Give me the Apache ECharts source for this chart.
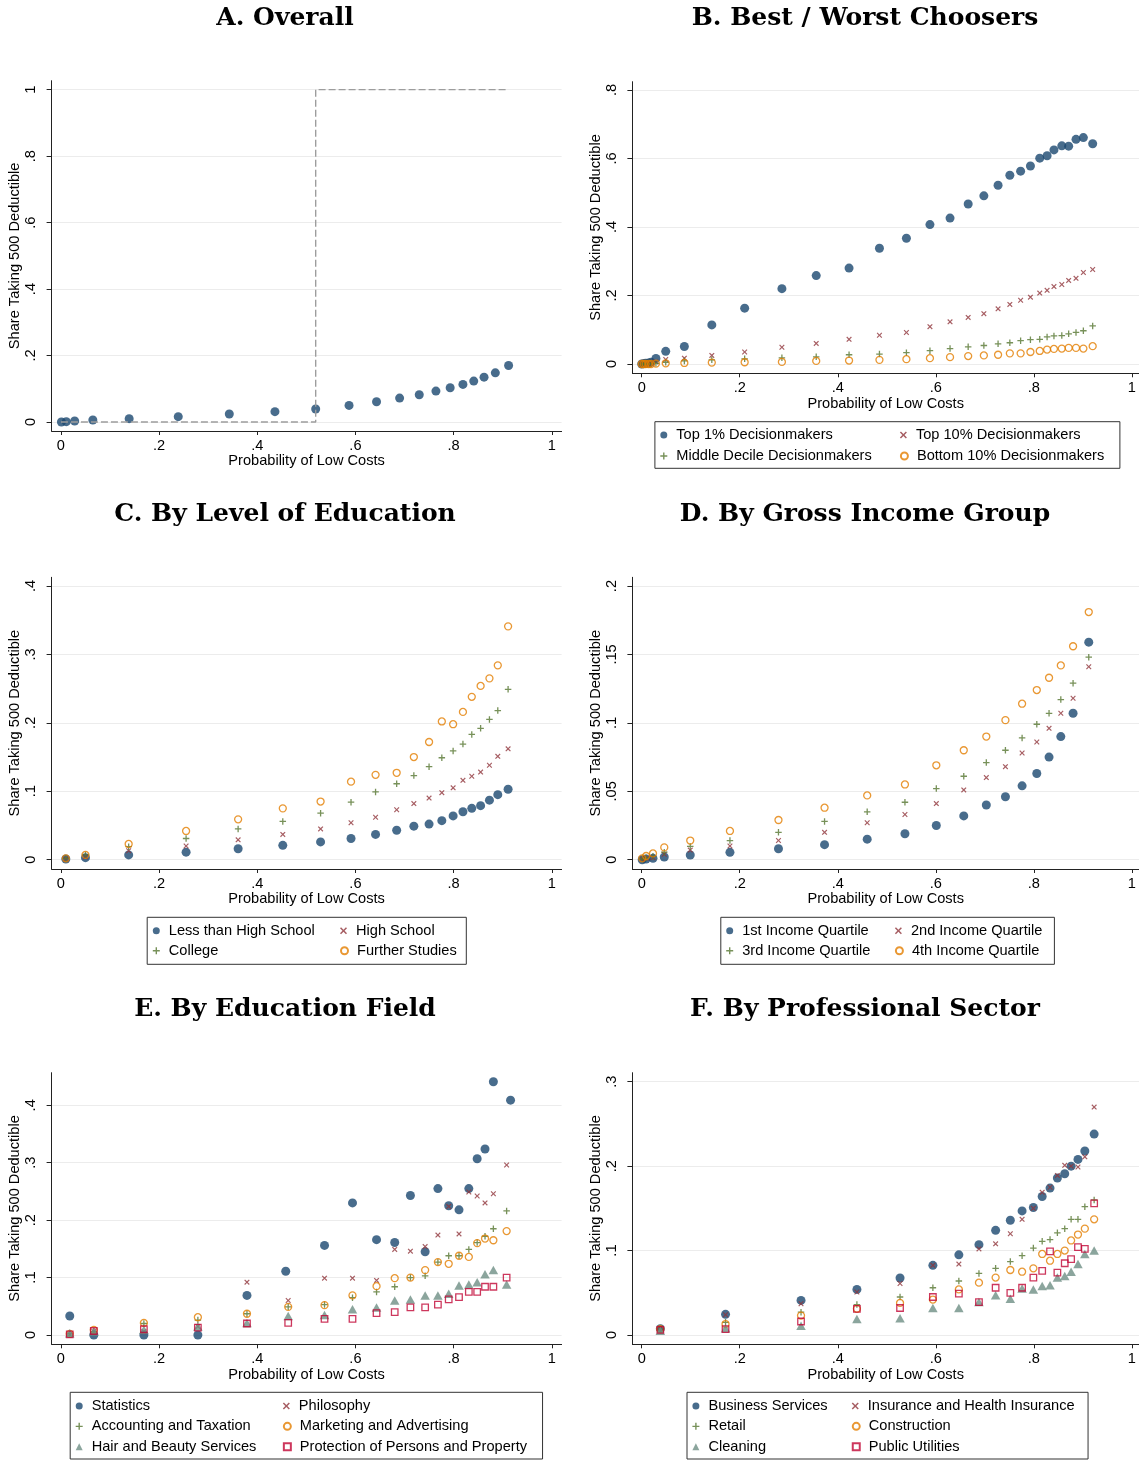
<!DOCTYPE html>
<html>
<head>
<meta charset="utf-8">
<script src="https://cdn.jsdelivr.net/npm/echarts@6/dist/echarts.min.js"></script>
<style>
  html, body { margin: 0; padding: 0; background: #fff; }
  #chart { width: 1139px; height: 1460px; }
</style>
</head>
<body>
<div id="chart"></div>
<script>
  // ---- data ----
  const xTicks = [0, 0.2, 0.4, 0.6, 0.8, 1]
  const xTickLabels = ['0', '.2', '.4', '.6', '.8', '1']

  // A. Overall
  const xA = [0.001, 0.011, 0.028, 0.065, 0.139, 0.239, 0.343, 0.436, 0.519, 0.587, 0.643, 0.690, 0.730, 0.764, 0.793, 0.819, 0.841, 0.862, 0.885, 0.912]
  const yA = [0, 0.001, 0.003, 0.006, 0.010, 0.016, 0.024, 0.031, 0.039, 0.050, 0.061, 0.072, 0.082, 0.093, 0.103, 0.113, 0.123, 0.135, 0.148, 0.170]
  const xStep = [0, 0.519, 0.519, 0.912]
  const yStep = [0, 0, 1, 1]
  const yTicksA = [0, 0.2, 0.4, 0.6, 0.8, 1]
  const yLabelsA = ['0', '.2', '.4', '.6', '.8', '1']

  // B. Best / Worst Choosers
  const xB = [0, 0.004, 0.008, 0.014, 0.019, 0.029, 0.049, 0.087, 0.143, 0.210, 0.286, 0.356, 0.423, 0.485, 0.540, 0.588, 0.629, 0.666, 0.698, 0.727, 0.751, 0.773, 0.793, 0.812, 0.827, 0.841, 0.857, 0.871, 0.886, 0.901, 0.920]
  const top1 = [0, 0.001, 0.002, 0.003, 0.005, 0.016, 0.037, 0.051, 0.114, 0.163, 0.220, 0.258, 0.280, 0.338, 0.367, 0.407, 0.426, 0.467, 0.491, 0.522, 0.551, 0.563, 0.578, 0.601, 0.608, 0.625, 0.637, 0.636, 0.656, 0.661, 0.643]
  const top10 = [0, 0, 0.001, 0.001, 0.002, 0.006, 0.013, 0.017, 0.025, 0.035, 0.049, 0.060, 0.072, 0.084, 0.092, 0.109, 0.123, 0.136, 0.147, 0.161, 0.174, 0.186, 0.195, 0.207, 0.215, 0.226, 0.232, 0.244, 0.250, 0.267, 0.276]
  const midDec = [0, 0, 0, 0, 0.001, 0.002, 0.005, 0.009, 0.012, 0.015, 0.018, 0.021, 0.027, 0.029, 0.033, 0.039, 0.045, 0.050, 0.054, 0.059, 0.062, 0.068, 0.071, 0.072, 0.079, 0.082, 0.083, 0.088, 0.092, 0.097, 0.111]
  const bot10 = [0, 0, 0, 0, 0, 0.001, 0.002, 0.003, 0.004, 0.005, 0.006, 0.009, 0.010, 0.012, 0.014, 0.017, 0.020, 0.023, 0.025, 0.027, 0.031, 0.031, 0.035, 0.038, 0.042, 0.044, 0.045, 0.047, 0.047, 0.045, 0.052]
  const yTicksB = [0, 0.2, 0.4, 0.6, 0.8]
  const yLabelsB = ['0', '.2', '.4', '.6', '.8']

  // C. By Level of Education
  const xC = [0.010, 0.050, 0.138, 0.255, 0.361, 0.452, 0.529, 0.591, 0.641, 0.684, 0.719, 0.750, 0.776, 0.799, 0.819, 0.837, 0.855, 0.873, 0.890, 0.911]
  const lessHS = [0.001, 0.003, 0.007, 0.011, 0.016, 0.021, 0.026, 0.031, 0.037, 0.043, 0.049, 0.052, 0.057, 0.064, 0.070, 0.075, 0.079, 0.087, 0.095, 0.103]
  const highSchool = [0.001, 0.004, 0.013, 0.020, 0.029, 0.037, 0.045, 0.054, 0.062, 0.073, 0.082, 0.090, 0.098, 0.105, 0.116, 0.122, 0.128, 0.138, 0.151, 0.162]
  const college = [0.002, 0.007, 0.019, 0.031, 0.045, 0.056, 0.068, 0.084, 0.099, 0.111, 0.123, 0.136, 0.149, 0.159, 0.169, 0.183, 0.192, 0.205, 0.218, 0.249]
  const further = [0.002, 0.007, 0.023, 0.042, 0.059, 0.075, 0.085, 0.114, 0.124, 0.127, 0.150, 0.172, 0.202, 0.198, 0.216, 0.238, 0.254, 0.265, 0.284, 0.341]
  const yTicksC = [0, 0.1, 0.2, 0.3, 0.4]
  const yLabelsC = ['0', '.1', '.2', '.3', '.4']

  // D. By Gross Income Group
  const xD = [0.001, 0.009, 0.023, 0.046, 0.099, 0.180, 0.279, 0.373, 0.460, 0.537, 0.601, 0.657, 0.703, 0.742, 0.776, 0.806, 0.831, 0.855, 0.880, 0.912]
  const inc1 = [0, 0.0005, 0.001, 0.002, 0.0034, 0.0054, 0.008, 0.011, 0.015, 0.019, 0.025, 0.032, 0.040, 0.046, 0.054, 0.063, 0.075, 0.090, 0.107, 0.159]
  const inc2 = [0.0005, 0.001, 0.0015, 0.004, 0.007, 0.010, 0.014, 0.020, 0.027, 0.033, 0.041, 0.051, 0.060, 0.068, 0.078, 0.086, 0.096, 0.107, 0.118, 0.141]
  const inc3 = [0.0005, 0.0015, 0.0025, 0.0055, 0.0097, 0.014, 0.020, 0.028, 0.035, 0.042, 0.052, 0.061, 0.071, 0.080, 0.089, 0.099, 0.107, 0.117, 0.129, 0.148]
  const inc4 = [0.001, 0.0027, 0.0046, 0.009, 0.014, 0.021, 0.029, 0.038, 0.047, 0.055, 0.069, 0.080, 0.090, 0.102, 0.114, 0.124, 0.133, 0.142, 0.156, 0.181]
  const yTicksD = [0, 0.05, 0.1, 0.15, 0.2]
  const yLabelsD = ['0', '.05', '.1', '.15', '.2']

  // E. By Education Field
  const xE = [0.018, 0.067, 0.169, 0.279, 0.379, 0.463, 0.537, 0.594, 0.643, 0.680, 0.712, 0.742, 0.768, 0.790, 0.811, 0.831, 0.848, 0.864, 0.881, 0.908]
  const xEStat = [0.018, 0.067, 0.169, 0.279, 0.379, 0.458, 0.537, 0.594, 0.643, 0.680, 0.712, 0.742, 0.768, 0.790, 0.811, 0.831, 0.848, 0.864, 0.881, 0.916]
  const statistics = [0.033, 0, 0, 0, 0.069, 0.111, 0.156, 0.230, 0.166, 0.161, 0.243, 0.145, 0.255, 0.225, 0.218, 0.255, 0.307, 0.324, 0.441, 0.409]
  const philosophy = [0.001, 0.006, 0.006, 0.015, 0.092, 0.060, 0.099, 0.099, 0.095, 0.149, 0.146, 0.154, 0.174, 0.224, 0.176, 0.249, 0.242, 0.230, 0.246, 0.296]
  const accounting = [0.002, 0.006, 0.020, 0.026, 0.037, 0.049, 0.053, 0.065, 0.075, 0.084, 0.100, 0.103, 0.127, 0.138, 0.138, 0.149, 0.161, 0.172, 0.185, 0.216]
  const marketing = [0.002, 0.009, 0.021, 0.031, 0.037, 0.049, 0.052, 0.069, 0.085, 0.099, 0.100, 0.113, 0.127, 0.124, 0.138, 0.136, 0.160, 0.168, 0.165, 0.181]
  const hairBeauty = [0.003, 0.006, 0.009, 0.015, 0.021, 0.033, 0.035, 0.045, 0.048, 0.060, 0.062, 0.069, 0.069, 0.072, 0.086, 0.088, 0.092, 0.106, 0.113, 0.088]
  const protection = [0.001, 0.007, 0.010, 0.013, 0.020, 0.021, 0.028, 0.028, 0.038, 0.040, 0.048, 0.048, 0.053, 0.062, 0.066, 0.075, 0.075, 0.084, 0.084, 0.100]
  const yTicksE = [0, 0.1, 0.2, 0.3, 0.4]
  const yLabelsE = ['0', '.1', '.2', '.3', '.4']

  // F. By Professional Sector
  const xF = [0.038, 0.171, 0.325, 0.439, 0.527, 0.594, 0.647, 0.688, 0.722, 0.752, 0.776, 0.799, 0.817, 0.833, 0.848, 0.863, 0.876, 0.890, 0.904, 0.923]
  const business = [0.0075, 0.0245, 0.041, 0.054, 0.0675, 0.0825, 0.095, 0.107, 0.124, 0.136, 0.147, 0.151, 0.164, 0.174, 0.186, 0.191, 0.200, 0.208, 0.218, 0.238]
  const insurance = [0.0075, 0.024, 0.037, 0.051, 0.061, 0.0825, 0.084, 0.102, 0.108, 0.120, 0.137, 0.150, 0.169, 0.175, 0.189, 0.201, 0.200, 0.199, 0.211, 0.270]
  const retail = [0.007, 0.015, 0.027, 0.036, 0.045, 0.056, 0.064, 0.073, 0.079, 0.087, 0.094, 0.103, 0.111, 0.113, 0.121, 0.126, 0.137, 0.137, 0.152, 0.160]
  const construction = [0.007, 0.013, 0.023, 0.031, 0.038, 0.042, 0.054, 0.062, 0.068, 0.077, 0.075, 0.079, 0.096, 0.088, 0.096, 0.100, 0.112, 0.119, 0.126, 0.137]
  const cleaning = [0.005, 0.008, 0.011, 0.019, 0.020, 0.032, 0.032, 0.039, 0.047, 0.043, 0.055, 0.054, 0.058, 0.059, 0.068, 0.070, 0.075, 0.084, 0.096, 0.100]
  const utilities = [0.006, 0.007, 0.016, 0.031, 0.032, 0.045, 0.049, 0.039, 0.056, 0.050, 0.056, 0.068, 0.076, 0.099, 0.074, 0.085, 0.090, 0.104, 0.102, 0.156]
  const yTicksF = [0, 0.1, 0.2, 0.3]
  const yLabelsF = ['0', '.1', '.2', '.3']

  // ---- styling ----
  const sans = 'Liberation Sans, Arial, sans-serif'
  const navy = '#1a476f'
  const maroon = '#90353b'
  const green = '#55752f'
  const orange = '#e37e00'
  const teal = '#6e8e84'
  const cranberry = '#c10534'

  const plusPath = 'path://M2.4,0H3.6V2.4H6V3.6H3.6V6H2.4V3.6H0V2.4H2.4Z'
  const crossPath = 'path://M0,1.5L1.5,0L5,3.5L8.5,0L10,1.5L6.5,5L10,8.5L8.5,10L5,6.5L1.5,10L0,8.5L3.5,5Z'

  const markers = {
    dot: { symbol: 'circle', symbolSize: 9, itemStyle: { color: navy } },
    cross: { symbol: crossPath, symbolSize: 5.5, itemStyle: { color: maroon } },
    plus: { symbol: plusPath, symbolSize: 6.5, itemStyle: { color: green } },
    ring: { symbol: 'circle', symbolSize: 7, itemStyle: { color: 'rgba(0,0,0,0)', borderColor: orange, borderWidth: 1.3 } },
    tri: { symbol: 'triangle', symbolSize: [9.5, 8.5], itemStyle: { color: teal } },
    square: { symbol: 'rect', symbolSize: 6.5, itemStyle: { color: 'rgba(0,0,0,0)', borderColor: cranberry, borderWidth: 1.3 } },
  }

  // pixel boxes of the six plot regions
  const grids = [
    { left: 51.6, top: 80.7, width: 510, height: 350.3 },
    { left: 632.4, top: 81.7, width: 506.6, height: 291.6 },
    { left: 51.6, top: 577.3, width: 510, height: 291.7 },
    { left: 632.4, top: 577.3, width: 506.6, height: 291.7 },
    { left: 51.6, top: 1072.7, width: 510, height: 271.6 },
    { left: 632.4, top: 1072.7, width: 506.6, height: 271.6 },
  ]
  const yRanges = [[-0.0271, 1.027], [-0.0272, 0.8242], [-0.0136, 0.4127], [-0.0068, 0.2064], [-0.0162, 0.4568], [-0.011, 0.3107]]
  const yTickSets = [[yTicksA, yLabelsA], [yTicksB, yLabelsB], [yTicksC, yLabelsC], [yTicksD, yLabelsD], [yTicksE, yLabelsE], [yTicksF, yLabelsF]]

  const pick = (ticks, labels) => (v) => {
    const i = ticks.findIndex((t) => Math.abs(t - v) < 1e-9)
    return i < 0 ? '' : labels[i]
  }
  const axisText = { fontFamily: sans, fontSize: 14.6, color: '#000' }

  const xAxes = grids.map((g, i) => ({
    type: 'value',
    gridIndex: i,
    min: -0.019,
    max: i % 2 ? 1.0145 : 1.020,
    name: 'Probability of Low Costs',
    nameLocation: 'middle',
    nameGap: 22,
    nameTextStyle: axisText,
    axisLine: { onZero: false, lineStyle: { color: '#222', width: 1 } },
    axisTick: { customValues: xTicks, length: 4, lineStyle: { color: '#222' } },
    axisLabel: { customValues: xTicks, formatter: pick(xTicks, xTickLabels), margin: 7, ...axisText },
    splitLine: { show: false },
  }))

  const yAxes = grids.map((g, i) => ({
    type: 'value',
    gridIndex: i,
    min: yRanges[i][0],
    max: yRanges[i][1],
    name: 'Share Taking 500 Deductible',
    nameLocation: 'middle',
    nameRotate: 90,
    nameGap: 27,
    nameTextStyle: axisText,
    axisLine: { show: true, onZero: false, lineStyle: { color: '#222', width: 1 } },
    axisTick: { show: true, customValues: yTickSets[i][0], length: 5, lineStyle: { color: '#222' } },
    axisLabel: { customValues: yTickSets[i][0], formatter: pick(yTickSets[i][0], yTickSets[i][1]), rotate: 90, margin: 13, ...axisText },
    splitLine: { show: true, lineStyle: { color: '#ececec', width: 1 } },
  }))

  const titleText = ['A. Overall', 'B. Best / Worst Choosers', 'C. By Level of Education', 'D. By Gross Income Group', 'E. By Education Field', 'F. By Professional Sector']
  const titles = titleText.map((t, i) => ({
    text: t,
    left: i % 2 ? 865 : 285,
    top: 6 + Math.floor(i / 2) * 495.7,
    textAlign: 'center',
    padding: 0,
    textStyle: { fontFamily: 'DejaVu Serif', fontWeight: 'bold', fontSize: 25, color: '#000' },
  }))

  const pts = (xs, ys) => xs.map((x, i) => [x, ys[i]])
  const scatter = (name, gi, xs, ys, m) => ({
    name, type: 'scatter', xAxisIndex: gi, yAxisIndex: gi,
    data: pts(xs, ys), silent: true,
    symbol: markers[m].symbol, symbolSize: markers[m].symbolSize,
    itemStyle: { ...markers[m].itemStyle },
  })

  const series = [
    {
      type: 'line', xAxisIndex: 0, yAxisIndex: 0, data: pts(xStep, yStep),
      showSymbol: false, silent: true,
      lineStyle: { color: '#9d9d9d', width: 1.4, type: [7, 3] },
    },
    scatter('Overall', 0, xA, yA, 'dot'),
    scatter('Top 1% Decisionmakers', 1, xB, top1, 'dot'),
    scatter('Top 10% Decisionmakers', 1, xB, top10, 'cross'),
    scatter('Middle Decile Decisionmakers', 1, xB, midDec, 'plus'),
    scatter('Bottom 10% Decisionmakers', 1, xB, bot10, 'ring'),
    scatter('Less than High School', 2, xC, lessHS, 'dot'),
    scatter('High School', 2, xC, highSchool, 'cross'),
    scatter('College', 2, xC, college, 'plus'),
    scatter('Further Studies', 2, xC, further, 'ring'),
    scatter('1st Income Quartile', 3, xD, inc1, 'dot'),
    scatter('2nd Income Quartile', 3, xD, inc2, 'cross'),
    scatter('3rd Income Quartile', 3, xD, inc3, 'plus'),
    scatter('4th Income Quartile', 3, xD, inc4, 'ring'),
    scatter('Statistics', 4, xEStat, statistics, 'dot'),
    scatter('Philosophy', 4, xE, philosophy, 'cross'),
    scatter('Accounting and Taxation', 4, xE, accounting, 'plus'),
    scatter('Marketing and Advertising', 4, xE, marketing, 'ring'),
    scatter('Hair and Beauty Services', 4, xE, hairBeauty, 'tri'),
    scatter('Protection of Persons and Property', 4, xE, protection, 'square'),
    scatter('Business Services', 5, xF, business, 'dot'),
    scatter('Insurance and Health Insurance', 5, xF, insurance, 'cross'),
    scatter('Retail', 5, xF, retail, 'plus'),
    scatter('Construction', 5, xF, construction, 'ring'),
    scatter('Cleaning', 5, xF, cleaning, 'tri'),
    scatter('Public Utilities', 5, xF, utilities, 'square'),
  ]

  // two-column boxed legends
  const legendBox = (names, left, top, pad, gap, w1, w2) => ({
    left, top, orient: 'horizontal', padding: pad, itemGap: gap,
    width: 32 + w1 + w2 + gap + 6,
    itemWidth: 7, itemHeight: 7,
    borderColor: '#333', borderWidth: 1, borderRadius: 0,
    selectedMode: false,
    textStyle: { fontFamily: sans, fontSize: 14.6, color: '#000', lineHeight: 16, padding: [0, 0, 0, 4] },
    data: names.map((n, i) => ({ name: n, textStyle: { width: i % 2 ? w2 : w1 } })),
  })
  const legends = [
    legendBox(['Top 1% Decisionmakers', 'Top 10% Decisionmakers', 'Middle Decile Decisionmakers', 'Bottom 10% Decisionmakers'],
      654.9, 421.7, [5.3, 5, 4.3, 5.4], 5, 218.6, 198),
    legendBox(['Less than High School', 'High School', 'College', 'Further Studies'],
      147.2, 917.3, [5.4, 5, 5.6, 5.6], 4, 167.2, 104.3),
    legendBox(['1st Income Quartile', '2nd Income Quartile', '3rd Income Quartile', '4th Income Quartile'],
      720.8, 917.3, [5.4, 5, 5.6, 5.4], 4, 148.7, 137.5),
    legendBox(['Statistics', 'Philosophy', 'Accounting and Taxation', 'Marketing and Advertising', 'Hair and Beauty Services', 'Protection of Persons and Property'],
      70.2, 1392.3, [5.7, 5, 4.3, 5.5], 4.35, 186.8, 237.7),
    legendBox(['Business Services', 'Insurance and Health Insurance', 'Retail', 'Construction', 'Cleaning', 'Public Utilities'],
      687, 1392.3, [5.7, 5, 4.3, 5.4], 4.35, 139, 214.3),
  ]

  const options = {
    backgroundColor: '#fff',
    animation: false,
    title: titles,
    grid: grids,
    xAxis: xAxes,
    yAxis: yAxes,
    legend: legends,
    series,
  }

  const chart = echarts.init(document.getElementById('chart'), null, { renderer: 'canvas' })
  chart.setOption(options)
</script>
</body>
</html>
